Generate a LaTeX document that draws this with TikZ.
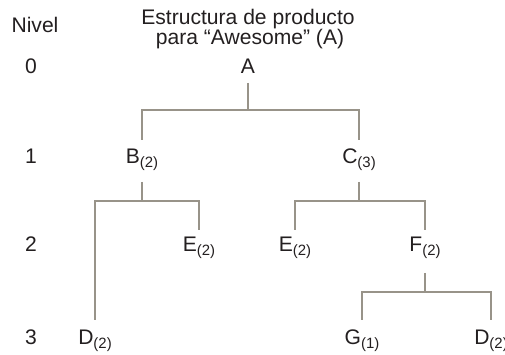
\documentclass[tikz,border=0pt]{standalone}
\usepackage{fontspec}
\setmainfont{Liberation Sans}
\usetikzlibrary{calc}
\definecolor{ink}{RGB}{35,31,32}
\definecolor{wire}{RGB}{152,147,137}
\newcommand{\qnt}[1]{\raisebox{-2pt}{\fontsize{8.5}{10}\selectfont(#1)}}

\begin{document}
\begin{tikzpicture}[x=0.02cm, y=-0.02cm,
  part/.style={anchor=base, inner sep=0pt, font=\fontsize{12}{14}\selectfont, text=ink},
  lvl/.style={part},
  link/.style={draw=wire, line width=1.5pt}]
\useasboundingbox (0,0) rectangle (505,355);

% headings and level numbers
\node[lvl]  (nivel)  at (35,32)   {Nivel};
\node[part] (title1) at (248,25)  {Estructura de producto};
\node[part] (title2) at (250,45)  {para “Awesome” (A)};
\node[lvl]  (l0) at (31,73)  {0};
\node[lvl]  (l1) at (31,164) {1};
\node[lvl]  (l2) at (31,252) {2};
\node[lvl]  (l3) at (31,345) {3};

% parts
\node[part] (A)  at (248,73)  {A};
\node[part] (B)  at (142,164) {B\qnt{2}};
\node[part] (C)  at (359,164) {C\qnt{3}};
\node[part] (E1) at (199,252) {E\qnt{2}};
\node[part] (E2) at (295,252) {E\qnt{2}};
\node[part] (F)  at (425,252) {F\qnt{2}};
\node[part] (D1) at (95,345)  {D\qnt{2}};
\node[part] (G)  at (362,345) {G\qnt{1}};
\node[part] (D2) at (491,345) {D\qnt{2}};

\coordinate (jA) at (248,110);
\coordinate (jB) at (142,201);
\coordinate (jC) at (359,201);
\coordinate (jF) at (425,292);

\draw[link] ($(A.base)+(0,10)$) -- (jA);
\draw[link] ($(B.base)+(0,-24)$) |- (jA) -| ($(C.base)+(0,-24)$);

\draw[link] ($(B.base)+(0,18)$) -- (jB);
\draw[link] ($(D1.base)+(0,-25)$) |- (jB) -| ($(E1.base)+(0,-22)$);

\draw[link] ($(C.base)+(0,18)$) -- (jC);
\draw[link] ($(E2.base)+(0,-22)$) |- (jC) -| ($(F.base)+(0,-22)$);

\draw[link] ($(F.base)+(0,21)$) -- (jF);
\draw[link] ($(G.base)+(0,-25)$) |- (jF) -| ($(D2.base)+(0,-25)$);
\end{tikzpicture}
\end{document}
